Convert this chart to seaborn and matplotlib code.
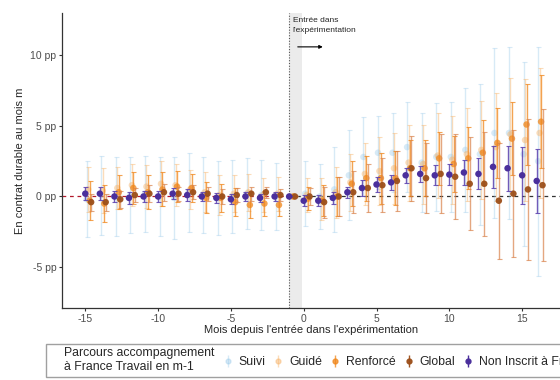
import numpy as np
import pandas as pd
import seaborn as sns
import matplotlib.pyplot as plt
from matplotlib.lines import Line2D
from matplotlib.legend_handler import HandlerTuple

months = list(range(-15, 17))

suivi = [-0.2, 0.1, 0.0, 0.1, 0.2, 0.0, -0.1, 0.3, 0.1, -0.1, 0.0, 0.2, 0.1, 0.0, 0.0,
         0.2, 0.0, 0.5, 1.5, 2.8, 3.1, 3.1, 3.5, 2.4, 2.8, 2.8, 3.3, 3.0, 4.5, 4.5, 3.0, 2.5]
suivi_ci = [2.7, 2.8, 2.8, 2.7, 2.7, 2.8, 2.9, 2.8, 2.7, 2.6, 2.6, 2.5, 2.5, 2.4, 0.0,
            2.3, 2.3, 3.0, 3.2, 2.8, 2.6, 2.8, 3.2, 3.5, 3.8, 3.9, 4.4, 5.0, 6.0, 6.1, 6.5, 8.1]

guide = [0.5, 0.4, 0.6, 0.8, 0.7, 0.9, 0.8, 0.5, 0.3, 0.1, 0.2, 0.3, 0.1, 0.2, 0.0,
         0.1, -0.2, 0.3, 1.0, 1.6, 1.8, 2.0, 2.4, 2.3, 2.9, 2.6, 3.0, 3.3, 3.5, 4.4, 4.0, 4.5]
guide_ci = [1.6, 1.6, 1.5, 1.5, 1.5, 1.6, 1.5, 1.4, 1.4, 1.4, 1.3, 1.3, 1.2, 1.2, 0.0,
            1.2, 1.5, 1.8, 2.0, 2.2, 2.4, 2.5, 2.7, 2.8, 3.0, 3.1, 3.3, 3.5, 3.8, 4.0, 4.3, 4.6]

renforce = [-0.3, -0.5, 0.3, 0.6, 0.3, 0.5, 0.7, 0.6, -0.1, -0.1, -0.4, -0.6, -0.5, -0.6, 0.0,
            -0.15, -0.3, 0.0, 0.9, 1.3, 1.3, 1.3, 2.0, 2.0, 2.7, 2.3, 2.7, 3.1, 3.8, 4.1, 5.1, 5.3]
renforce_ci = [1.4, 1.3, 1.2, 1.1, 1.2, 1.2, 1.1, 1.0, 1.1, 1.0, 1.0, 0.9, 0.9, 0.8, 0.0,
               0.8, 1.1, 1.4, 1.6, 1.6, 1.8, 1.9, 2.0, 2.0, 1.9, 2.0, 2.2, 2.3, 2.5, 2.6, 2.9, 3.3]

glob = [-0.4, -0.4, -0.2, 0.1, 0.2, 0.3, 0.2, 0.3, 0.2, 0.0, 0.1, 0.2, 0.3, 0.1, 0.0,
        0.0, -0.4, 0.0, 0.3, 0.6, 0.8, 1.1, 2.0, 1.3, 1.6, 1.4, 0.9, 0.9, -0.3, 0.2, 0.5, 0.8]
glob_ci = [0.6, 0.6, 0.6, 0.5, 0.6, 0.6, 0.5, 0.5, 0.5, 0.5, 0.5, 0.5, 0.4, 0.4, 0.0,
           0.6, 1.1, 1.4, 1.5, 1.7, 1.9, 2.1, 2.3, 2.5, 2.8, 3.0, 3.3, 3.7, 4.1, 4.5, 5.0, 5.4]

non_inscrit = [0.2, 0.2, 0.0, -0.1, 0.0, 0.0, 0.2, 0.1, 0.0, -0.1, -0.2, 0.0, -0.1, 0.0, 0.0,
               -0.3, -0.3, -0.1, 0.3, 0.6, 0.85, 1.0, 1.5, 1.6, 1.5, 1.55, 1.7, 1.6, 2.1, 2.0, 1.5, 1.1]
non_inscrit_ci = [0.45, 0.45, 0.4, 0.4, 0.4, 0.4, 0.4, 0.4, 0.35, 0.35, 0.35, 0.3, 0.3, 0.3, 0.0,
                  0.4, 0.4, 0.4, 0.4, 0.55, 0.55, 0.55, 0.55, 0.55, 0.7, 0.75, 0.9, 1.1, 1.5, 1.6, 2.0, 2.3]

labels = ["Suivi", "Guidé", "Renforcé", "Global", "Non Inscrit à France Travail"]
colors = ["#8fc4e8", "#f7b267", "#f0861a", "#9c4f1a", "#4a2f9c"]
bar_colors = ["#8fc4e8", "#f7b267", "#f0861a", "#d9824a", "#5a3fae"]
alphas = [0.35, 0.45, 0.75, 0.95, 1.0]
bar_alphas = [0.35, 0.45, 0.75, 0.7, 0.85]
offsets = [0.1, 0.2, 0.3, 0.4, 0.0]

frames = []
for lab, v, ci, off in zip(labels, [suivi, guide, renforce, glob, non_inscrit],
                           [suivi_ci, guide_ci, renforce_ci, glob_ci, non_inscrit_ci], offsets):
    frames.append(pd.DataFrame({"mois": months, "est": v, "ci": ci, "groupe": lab,
                                "x": np.array(months) + off}))
df = pd.concat(frames, ignore_index=True)

sns.set_theme(style="white")
plt.rcParams["font.family"] = ["Liberation Sans", "DejaVu Sans"]

fig = plt.figure(figsize=(5.6, 3.8), dpi=100)
ax = fig.add_axes([62 / 560, 72 / 380, 498 / 560, 295 / 380])

ax.axvspan(-1, -0.1, color="#e6e6e6", alpha=0.8, lw=0, zorder=0)
ax.axvline(-1, color="#555555", ls=(0, (1, 1.5)), lw=0.8, zorder=1)
ax.plot([-16.6, -1], [0, 0], color="#b2182b", ls=(0, (3, 3)), lw=0.9, zorder=1)
ax.plot([-1, 17.6], [0, 0], color="#333333", ls=(0, (3, 3)), lw=0.9, zorder=1)

for i, lab in enumerate(labels):
    d = df[df["groupe"] == lab]
    ax.errorbar(d["x"], d["est"], yerr=d["ci"], fmt="none", ecolor=bar_colors[i],
                alpha=bar_alphas[i], elinewidth=1.0, capsize=1.8, capthick=0.8, zorder=2 + i)
    sns.scatterplot(data=d, x="x", y="est", color=colors[i], alpha=alphas[i], s=22,
                    edgecolor="none", ax=ax, zorder=3 + i, legend=False)

ax.set_xlim(-16.6, 17.6)
ax.set_ylim(-7.9, 13.0)
ax.set_xticks([-15, -10, -5, 0, 5, 10, 15])
ax.set_xticklabels(["-15", "-10", "-5", "0", "5", "10", "15"])
ax.set_yticks([-5, 0, 5, 10])
ax.set_yticklabels(["-5 pp", "0 pp", "5 pp", "10 pp"])
ax.tick_params(axis="both", length=2.5, width=0.8, color="#333333", labelsize=7.5,
               labelcolor="#4d4d4d", pad=1.5, left=True, bottom=True)
ax.set_xlabel("Mois depuis l'entrée dans l'expérimentation", fontsize=8, labelpad=1)
ax.set_ylabel("En contrat durable au mois m", fontsize=8, labelpad=4)
for s in ["top", "right"]:
    ax.spines[s].set_visible(False)
for s in ["left", "bottom"]:
    ax.spines[s].set_color("#333333")
    ax.spines[s].set_linewidth(0.9)

ax.text(-0.75, 12.1, "Entrée dans\nl'expérimentation", fontsize=6, va="center",
        ha="left", linespacing=1.5)
ax.annotate("", xy=(1.5, 10.6), xytext=(-0.6, 10.6),
            arrowprops=dict(arrowstyle="-|>", color="black", lw=0.8, mutation_scale=5))

handles = [Line2D([], [], alpha=0)]
for col, a in zip(colors, alphas):
    handles.append((Line2D([], [], color=col, alpha=a, marker="|", markersize=8, ls="none"),
                    Line2D([], [], color=col, alpha=a, marker="o", markersize=3.5, ls="none")))
leg_labels = ["Parcours accompagnement\nà France Travail en m-1"] + labels
leg = fig.legend(handles, leg_labels, handler_map={tuple: HandlerTuple(ndivide=1)},
                 loc="lower left", bbox_to_anchor=(40 / 560, -0.008), ncol=6, fontsize=8.8,
                 frameon=True, fancybox=False, edgecolor="#888888", handlelength=0.6,
                 handletextpad=0.6, columnspacing=0.75, borderpad=0.3)
leg.get_frame().set_linewidth(1.0)

fig.savefig("out.png", dpi=100)
